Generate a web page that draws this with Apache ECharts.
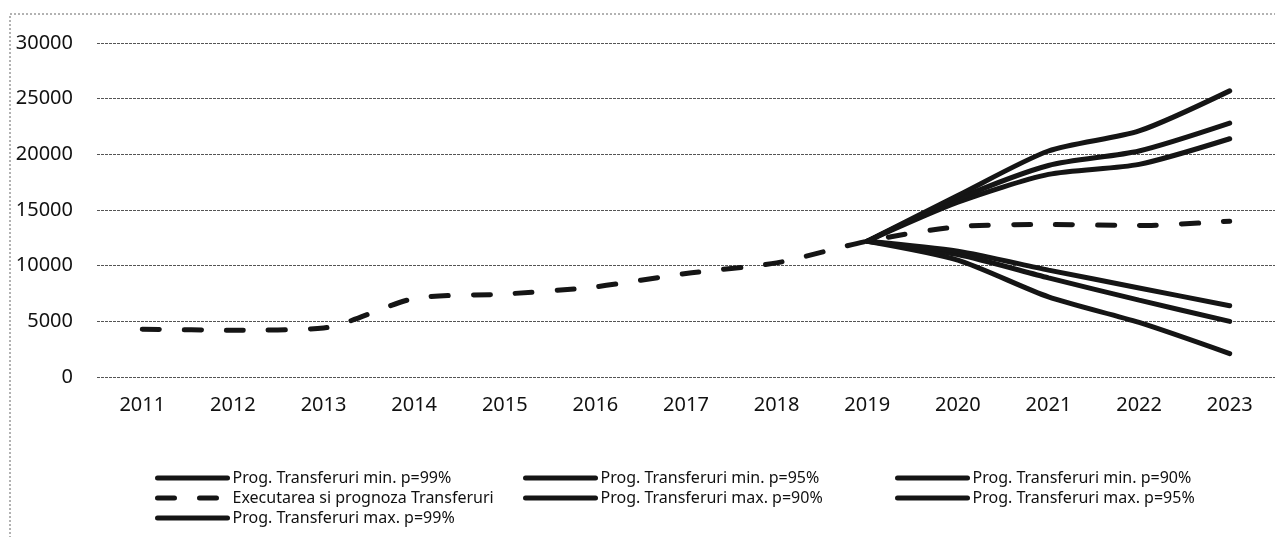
<!DOCTYPE html>
<html>
<head>
<meta charset="utf-8">
<script src="https://cdn.jsdelivr.net/npm/echarts@6/dist/echarts.min.js"></script>
<style>
 html, body { margin: 0; padding: 0; background: #fff; }
 #main { width: 1275px; height: 537px; }
</style>
</head>
<body>
<div id="main"></div>
<script>
 // date
 var years = ['2011', '2012', '2013', '2014', '2015', '2016', '2017', '2018', '2019', '2020', '2021', '2022', '2023'];
 var executare = [4300, 4200, 4400, 7050, 7450, 8100, 9300, 10250, 12200, 13500, 13700, 13600, 14000];
 var minP99 = ['-', '-', '-', '-', '-', '-', '-', '-', 12200, 10500, 7200, 4900, 2100];
 var minP95 = ['-', '-', '-', '-', '-', '-', '-', '-', 12200, 11000, 8900, 6900, 5000];
 var minP90 = ['-', '-', '-', '-', '-', '-', '-', '-', 12200, 11300, 9600, 8000, 6400];
 var maxP90 = ['-', '-', '-', '-', '-', '-', '-', '-', 12200, 15700, 18200, 19100, 21400];
 var maxP95 = ['-', '-', '-', '-', '-', '-', '-', '-', 12200, 16000, 19000, 20300, 22800];
 var maxP99 = ['-', '-', '-', '-', '-', '-', '-', '-', 12200, 16300, 20300, 22100, 25700];

 var names = {
  min99: 'Prog. Transferuri min. p=99%',
  min95: 'Prog. Transferuri min. p=95%',
  min90: 'Prog. Transferuri min. p=90%',
  exec: 'Executarea si prognoza Transferuri',
  max90: 'Prog. Transferuri max. p=90%',
  max95: 'Prog. Transferuri max. p=95%',
  max99: 'Prog. Transferuri max. p=99%'
 };

 var font = "'Noto Sans', sans-serif";
 var lineColor = '#151515';

 function solid(name, data) {
  return {
   name: name,
   type: 'line',
   data: data,
   symbol: 'none',
   smooth: 0.25,
   lineStyle: { color: lineColor, width: 5, cap: 'round' },
   itemStyle: { color: lineColor }
  };
 }

 function legendCol(left, items) {
  return {
   orient: 'vertical',
   left: left,
   top: 468,
   padding: 0,
   itemGap: 0,
   itemWidth: 70,
   itemHeight: 10,
   data: items,
   lineStyle: { width: 5, cap: 'round' },
   itemStyle: { opacity: 0 },
   textStyle: { fontFamily: font, fontSize: 16, color: '#111', lineHeight: 20 }
  };
 }

 var myChart = echarts.init(document.getElementById('main'));

 var option = {
  backgroundColor: '#fff',
  animation: false,
  graphic: [{
   type: 'rect',
   shape: { x: 10, y: 14, width: 1400, height: 700 },
   style: { fill: 'none', stroke: '#666', lineWidth: 1, lineDash: [2, 2] },
   silent: true
  }],
  legend: [
   legendCol(155, [names.min99, names.exec, names.max99]),
   legendCol(523, [names.min95, names.max90]),
   legendCol(895, [names.min90, names.max95])
  ],
  grid: { left: 97, top: 43, width: 1191, height: 334 },
  xAxis: {
   type: 'category',
   data: years,
   boundaryGap: true,
   axisLine: { show: false },
   axisTick: { show: false },
   axisLabel: { fontFamily: font, fontSize: 20, color: '#111', margin: 18 }
  },
  yAxis: {
   type: 'value',
   min: 0,
   max: 30000,
   interval: 5000,
   axisLine: { show: false },
   axisTick: { show: false },
   axisLabel: {
    fontFamily: font, fontSize: 20, color: '#111', margin: 24,
    formatter: function (v) { return String(v); }
   },
   splitLine: { lineStyle: { color: '#555', width: 1, type: [3, 1] } }
  },
  series: [
   solid(names.min99, minP99),
   solid(names.min95, minP95),
   solid(names.min90, minP90),
   {
    name: names.exec,
    type: 'line',
    data: executare,
    symbol: 'none',
    smooth: 0.25,
    lineStyle: { color: lineColor, width: 5, type: [17, 25], cap: 'round' },
    itemStyle: { color: lineColor }
   },
   solid(names.max90, maxP90),
   solid(names.max95, maxP95),
   solid(names.max99, maxP99)
  ]
 };

 myChart.setOption(option);
</script>
</body>
</html>
